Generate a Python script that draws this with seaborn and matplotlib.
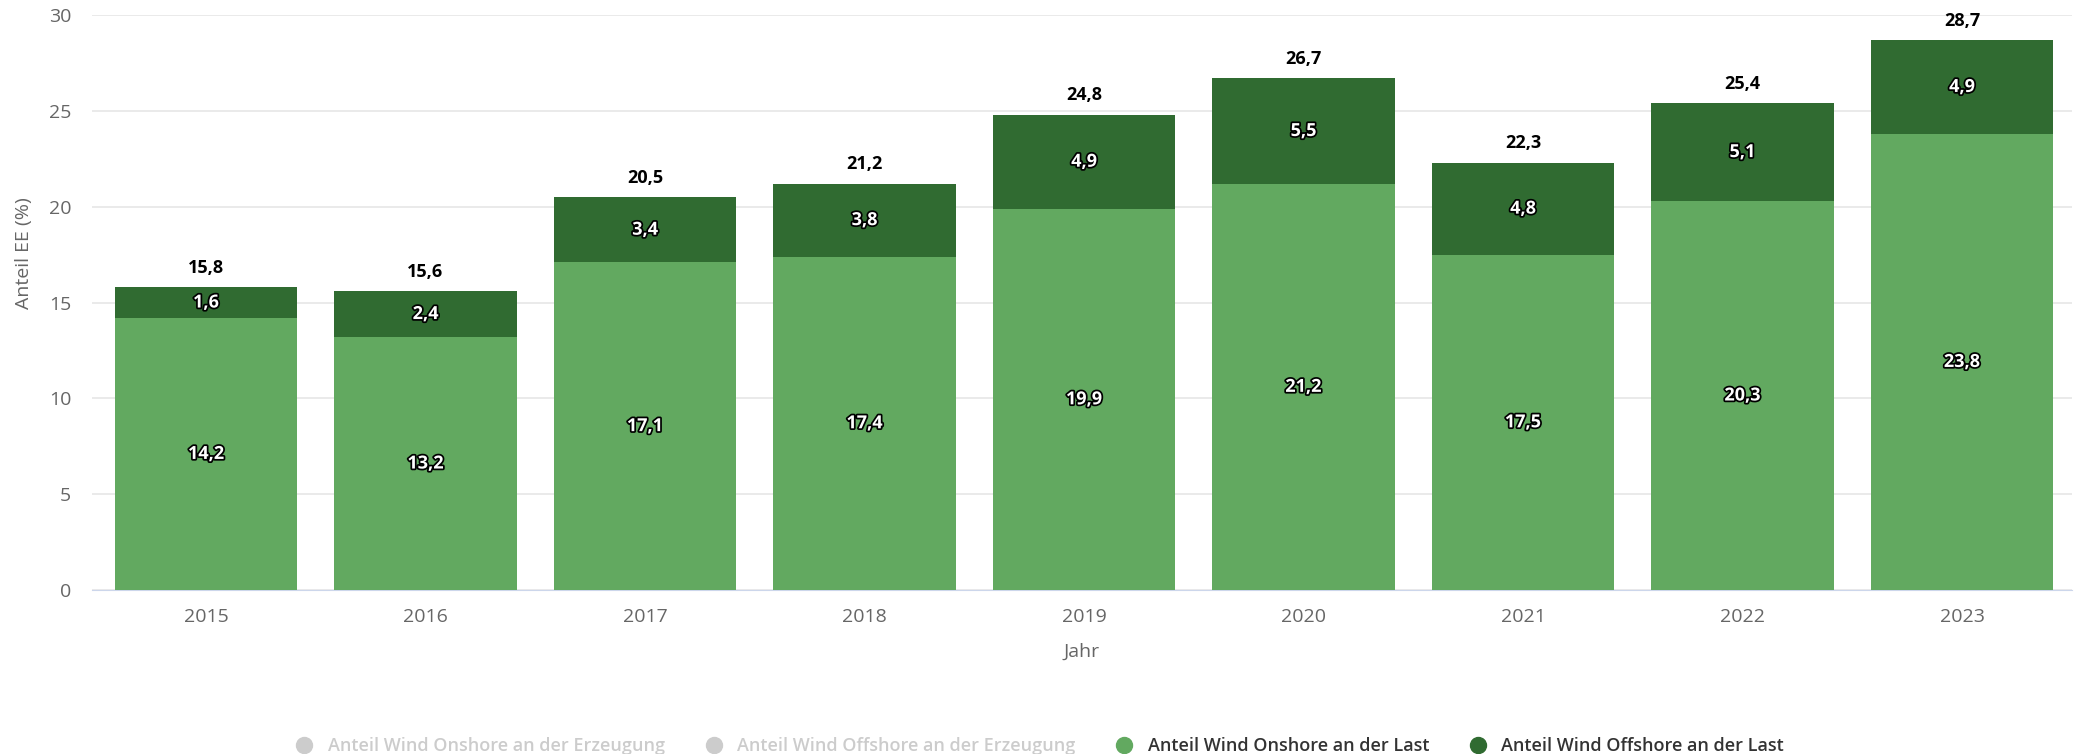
import numpy as np
import pandas as pd
import seaborn as sns
import matplotlib.pyplot as plt
import matplotlib.patheffects as pe
from matplotlib.lines import Line2D

years = ['2015', '2016', '2017', '2018', '2019', '2020', '2021', '2022', '2023']
onshore_last = [14.2, 13.2, 17.1, 17.4, 19.9, 21.2, 17.5, 20.3, 23.8]
offshore_last = [1.6, 2.4, 3.4, 3.8, 4.9, 5.5, 4.8, 5.1, 4.9]
total_last = [15.8, 15.6, 20.5, 21.2, 24.8, 26.7, 22.3, 25.4, 28.7]

legend_labels = ['Anteil Wind Onshore an der Erzeugung',
                 'Anteil Wind Offshore an der Erzeugung',
                 'Anteil Wind Onshore an der Last',
                 'Anteil Wind Offshore an der Last']

light_green = '#62a960'
dark_green = '#306b31'

sns.set_style('white')
plt.rcParams['font.family'] = ['Open Sans', 'DejaVu Sans']

df = pd.DataFrame({'Jahr': years, 'onshore': onshore_last,
                   'offshore': offshore_last, 'total': total_last})

fig = plt.figure(figsize=(20.8, 7.54), dpi=100)
ax = fig.add_axes([0.0442, 0.2175, 0.9518, 0.7625])

# stacked bars: total (offshore on top) behind, onshore in front
sns.barplot(data=df, x='Jahr', y='total', color=dark_green, width=0.83,
            saturation=1, linewidth=0, ax=ax, zorder=2)
sns.barplot(data=df, x='Jahr', y='onshore', color=light_green, width=0.83,
            saturation=1, linewidth=0, ax=ax, zorder=3)

ax.set_ylim(0, 30)
ax.set_xlim(-0.52, 8.5)
ax.set_yticks(range(0, 31, 5))
ax.grid(axis='y', color='#e6e6e6', linewidth=1.2, zorder=0)
ax.set_axisbelow(True)
for s in ['top', 'right', 'left']:
    ax.spines[s].set_visible(False)
ax.spines['bottom'].set_color('#ccd6eb')
ax.tick_params(axis='both', length=0, labelsize=14, colors='#666666')
ax.tick_params(axis='x', pad=13)
ax.tick_params(axis='y', pad=15)
ax.set_xlabel('Jahr', fontsize=14, color='#666666', labelpad=12)
ax.set_ylabel('Anteil EE (%)', fontsize=14, color='#666666')
ax.yaxis.set_label_coords(-0.03, 0.586)

fmt = lambda v: f'{v:.1f}'.replace('.', ',')
outline = [pe.withStroke(linewidth=2.5, foreground='black')]
for i in range(len(years)):
    ax.text(i, onshore_last[i] / 2, fmt(onshore_last[i]), ha='center', va='center',
            fontsize=13, fontweight='bold', color='white', path_effects=outline, zorder=5)
    ax.text(i, onshore_last[i] + offshore_last[i] / 2, fmt(offshore_last[i]),
            ha='center', va='center', fontsize=13, fontweight='bold',
            color='white', path_effects=outline, zorder=5)
    ax.annotate(fmt(total_last[i]), (i, total_last[i]), xytext=(0, 14),
                textcoords='offset points', ha='center', va='center',
                fontsize=13, fontweight='bold', color='black', zorder=5)

handles = [Line2D([], [], marker='o', linestyle='', markersize=11.5, color=c)
           for c in ['#cccccc', '#cccccc', light_green, dark_green]]
leg = fig.legend(handles, legend_labels, loc='center', ncol=4,
                 bbox_to_anchor=(0.4998, 8 / 754), frameon=False,
                 prop={'size': 13, 'weight': 'semibold'},
                 handlelength=1.0, handletextpad=0.8, columnspacing=2.2,
                 borderpad=0, borderaxespad=0)
for t, c in zip(leg.get_texts(), ['#cccccc', '#cccccc', '#333333', '#333333']):
    t.set_color(c)

plt.savefig('out.png', dpi=100)
